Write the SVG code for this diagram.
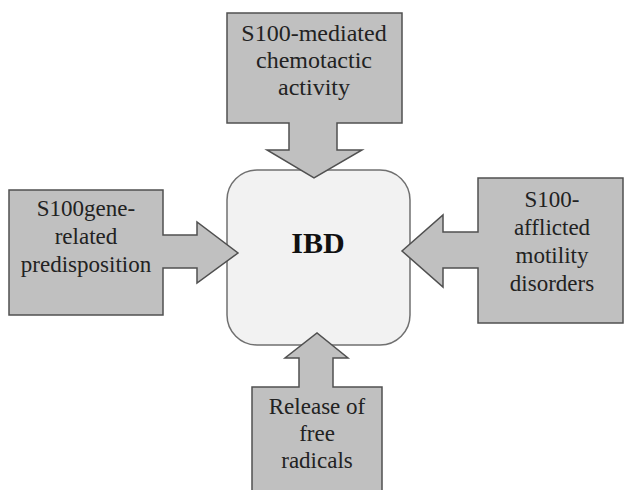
<svg xmlns="http://www.w3.org/2000/svg" width="624" height="490" viewBox="0 0 624 490">
<style>
.co{fill:#c0c0c0;stroke:#505050;stroke-width:1.5;stroke-linejoin:miter}
.hub{fill:#f2f2f2;stroke:#707070;stroke-width:1.5}
</style>
<rect width="624" height="490" fill="#fff"/>
<g id="ibd">
<rect class="hub" x="227" y="170" width="183" height="175" rx="30" ry="30"/>
<text x="318" y="253" font-family="Liberation Serif, Times New Roman, serif" font-size="30" font-weight="bold" fill="#111" text-anchor="middle">IBD</text>
</g>
<g id="connectors" font-family="Liberation Serif, Times New Roman, serif" font-size="23" fill="#222" text-anchor="middle">
<g id="top">
<path class="co" d="M227,13 H402 V123 H337 V150 H362 L314,178 L267,150 H289 V123 H227 Z"/>
<text x="314" y="41" font-size="24">S100-mediated</text>
<text x="314" y="68" font-size="24">chemotactic</text>
<text x="314" y="95" font-size="24">activity</text>
</g>
<g id="left">
<path class="co" d="M9,190 H163 V235 H197 V222 L238,253 L197,283 V268 H163 V315 H9 Z"/>
<text x="86" y="216">S100gene-</text>
<text x="86" y="244">related</text>
<text x="86" y="272">predisposition</text>
</g>
<g id="right">
<path class="co" d="M623,178 H478 V232 H443 V215 L402,251 L443,287 V268 H478 V323 H623 Z"/>
<text x="552" y="207">S100-</text>
<text x="552" y="235">afflicted</text>
<text x="552" y="263">motility</text>
<text x="552" y="291">disorders</text>
</g>
<g id="bottom">
<path class="co" d="M252,492 V387 H299 V358 H285 L317,333 L348,358 H333 V387 H382 V492"/>
<text x="317" y="414">Release of</text>
<text x="317" y="441">free</text>
<text x="317" y="468">radicals</text>
</g>
</g>
</svg>
